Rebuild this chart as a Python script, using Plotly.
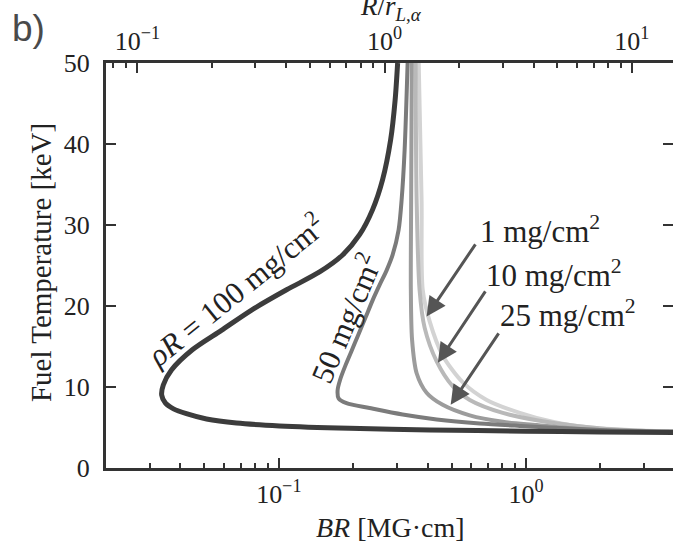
import numpy as np
import plotly.graph_objects as go

# ---------------- data ----------------
# rho*R = 100 mg/cm^2
br_100 = [0.3024, 0.2954, 0.2833, 0.2629, 0.2395, 0.2122, 0.1811, 0.1462, 0.1075,
          0.0776, 0.0586, 0.0447, 0.0368, 0.0341, 0.0336, 0.0348, 0.0375, 0.0423,
          0.0510, 0.0674, 0.1006, 0.1932, 0.4075, 0.997, 1.988, 3.93]
t_100 = [50.0, 45.4, 40.5, 35.6, 31.9, 28.8, 26.3, 24.2, 22.0,
         19.5, 17.0, 14.6, 12.1, 10.25, 9.0, 8.0, 7.3, 6.7,
         6.05, 5.55, 5.2, 4.9, 4.7, 4.55, 4.45, 4.38]

# rho*R = 50 mg/cm^2
br_50 = [0.3319, 0.3228, 0.3139, 0.3052, 0.2886, 0.2729, 0.2557, 0.2395, 0.2244,
         0.2093, 0.1978, 0.1862, 0.1770, 0.1729, 0.1745, 0.1879, 0.2329, 0.3167,
         0.4350, 0.6497, 0.9430, 1.988, 3.93]
t_50 = [50.0, 39.3, 33.1, 29.4, 26.3, 24.4, 22.6, 20.7, 18.6,
        16.4, 14.6, 12.7, 10.9, 9.6, 8.6, 8.0, 7.4, 6.6,
        6.0, 5.5, 5.2, 4.7, 4.5]

# rho*R = 25 mg/cm^2
br_25 = [0.345, 0.343, 0.342, 0.346, 0.361, 0.396, 0.460, 0.592, 0.805, 1.105,
         1.50, 2.5, 3.93]
t_25 = [50, 33, 22, 15.8, 11.7, 9.3, 7.8, 6.5, 5.7, 5.3,
        4.9, 4.55, 4.45]

# rho*R = 10 mg/cm^2
br_10 = [0.3575, 0.361, 0.371, 0.389, 0.4346, 0.505, 0.592, 0.805, 1.105, 1.6,
         2.6, 3.93]
t_10 = [50, 33, 22, 17.3, 13.2, 10.1, 8.4, 6.8, 5.9, 5.2,
        4.65, 4.5]

# rho*R = 1 mg/cm^2
br_1 = [0.368, 0.378, 0.382, 0.4075, 0.460, 0.554, 0.693, 0.943, 1.28, 1.8,
        2.8, 3.93]
t_1 = [50, 33, 22, 18.1, 13.9, 10.6, 8.4, 6.8, 5.7, 5.0,
       4.65, 4.5]

R_L_ALPHA = 0.268          # MG·cm, scale for the top axis R / r_L,alpha
BR_MIN, BR_MAX = 0.02, 3.93
T_MIN, T_MAX = 0, 50

y_ticks = [0, 10, 20, 30, 40, 50]
x_major = [0.1, 1]
x_major_text = ["10<sup>\u22121</sup>", "10<sup>0</sup>"]
x_minor = [0.02, 0.03, 0.04, 0.05, 0.06, 0.07, 0.08, 0.09,
           0.2, 0.3, 0.4, 0.5, 0.6, 0.7, 0.8, 0.9, 2, 3]
top_major = [0.1, 1, 10]
top_major_text = ["10<sup>\u22121</sup>", "10<sup>0</sup>", "10<sup>1</sup>"]
top_minor = [0.08, 0.09, 0.2, 0.3, 0.4, 0.5, 0.6, 0.7, 0.8, 0.9,
             2, 3, 4, 5, 6, 7, 8, 9]

# arrows: (tip BR, tip T, tail BR, tail T)
arrows = [
    (0.396, 18.7, 0.630, 27.8),
    (0.440, 13.0, 0.691, 22.0),
    (0.4956, 7.8, 0.782, 16.8),
]
labels = [
    ("1 mg/cm<sup>2</sup>", 1.136, 29.4, 0),
    ("10 mg/cm<sup>2</sup>", 1.294, 24.0, 0),
    ("25 mg/cm<sup>2</sup>", 1.475, 19.1, 0),
    ("<i>\u03c1R</i> = 100 mg/cm<sup>2</sup>", 0.0668, 22.0, -39),
    ("50 mg/cm<sup>2</sup>", 0.1845, 18.5, -67),
]

# ---------------- figure ----------------
SERIF = "Liberation Serif"
AX = "#333333"
TXT = "#222222"

fig = go.Figure()
curves = [
    (br_1, t_1, "#d3d3d3", 4),
    (br_10, t_10, "#b9b9b9", 4),
    (br_25, t_25, "#9c9c9c", 4),
    (br_50, t_50, "#7b7b7b", 4),
    (br_100, t_100, "#3c3c3c", 5),
]
for br, t, col, w in curves:
    fig.add_trace(go.Scatter(x=br, y=t, mode="lines",
                             line=dict(color=col, width=w, shape="spline", smoothing=0.8),
                             showlegend=False, hoverinfo="skip"))

# dummy trace so the top / right axes are drawn
fig.add_trace(go.Scatter(x=[1], y=[25], xaxis="x2", yaxis="y2", mode="markers",
                         marker=dict(opacity=0), showlegend=False, hoverinfo="skip"))

tickfont = dict(family=SERIF, size=26, color=TXT)
minor_common = dict(ticks="inside", ticklen=5, tickwidth=1.5, tickcolor=AX, showgrid=False)

fig.update_layout(
    width=673, height=543,
    margin=dict(l=106, r=0, t=63, b=75),
    paper_bgcolor="white", plot_bgcolor="white",
    xaxis=dict(type="log", range=[np.log10(BR_MIN), np.log10(BR_MAX)],
               tickmode="array", tickvals=x_major, ticktext=x_major_text,
               ticks="inside", ticklen=10, tickwidth=2, tickcolor=AX,
               showline=True, linewidth=3, linecolor=AX,
               showgrid=False, zeroline=False, tickfont=tickfont,
               ticklabelstandoff=1,
               minor=dict(tickmode="array", tickvals=x_minor, **minor_common)),
    xaxis2=dict(type="log", overlaying="x", side="top", anchor="y",
                range=[np.log10(BR_MIN / R_L_ALPHA), np.log10(BR_MAX / R_L_ALPHA)],
                tickmode="array", tickvals=top_major, ticktext=top_major_text,
                ticks="inside", ticklen=10, tickwidth=2, tickcolor=AX,
                showline=True, linewidth=3, linecolor=AX,
                showgrid=False, zeroline=False, tickfont=tickfont,
                ticklabelstandoff=0,
                minor=dict(tickmode="array", tickvals=top_minor, **minor_common)),
    yaxis=dict(range=[T_MIN, T_MAX], tickmode="array", tickvals=y_ticks,
               ticks="inside", ticklen=10, tickwidth=2, tickcolor=AX,
               showline=True, linewidth=3, linecolor=AX,
               showgrid=False, zeroline=False, tickfont=tickfont,
               ticklabelstandoff=8),
    yaxis2=dict(range=[T_MIN, T_MAX], overlaying="y", side="right", anchor="x",
                tickmode="array", tickvals=y_ticks,
                ticks="inside", ticklen=10, tickwidth=2, tickcolor=AX,
                showline=False, showgrid=False, zeroline=False,
                showticklabels=False),
)

for tip_x, tip_y, tail_x, tail_y in arrows:
    fig.add_annotation(x=np.log10(tip_x), y=tip_y, ax=np.log10(tail_x), ay=tail_y,
                       xref="x", yref="y", axref="x", ayref="y",
                       text="", showarrow=True, arrowhead=2, arrowsize=1.3,
                       arrowwidth=3, arrowcolor="#555555", standoff=0)

for txt, bx, ty, ang in labels:
    fig.add_annotation(x=np.log10(bx), y=ty, xref="x", yref="y", text=txt,
                       showarrow=False, textangle=ang, xanchor="center", yanchor="middle",
                       font=dict(family=SERIF, size=31, color=TXT))

# axis titles and panel label
fig.add_annotation(x=-0.1146, y=0.506, xref="paper", yref="paper",
                   text="Fuel Temperature [keV]", textangle=-90, showarrow=False,
                   xanchor="center", yanchor="middle",
                   font=dict(family=SERIF, size=29, color=TXT))
fig.add_annotation(x=0.501, y=-0.148, xref="paper", yref="paper",
                   text="<i>BR</i> [MG\u00b7cm]", showarrow=False,
                   xanchor="center", yanchor="middle",
                   font=dict(family=SERIF, size=28, color=TXT))
fig.add_annotation(x=0.503, y=1.136, xref="paper", yref="paper",
                   text="<i>R</i>/<i>r</i><sub><i>L</i>,<i>\u03b1</i></sub>", showarrow=False,
                   xanchor="center", yanchor="middle",
                   font=dict(family=SERIF, size=27, color=TXT))
fig.add_annotation(x=-0.136, y=1.086, xref="paper", yref="paper",
                   text="b)", showarrow=False, xanchor="center", yanchor="middle",
                   font=dict(family="Liberation Sans", size=37, color="#4a4a4a"))

fig.write_html("out.html")
